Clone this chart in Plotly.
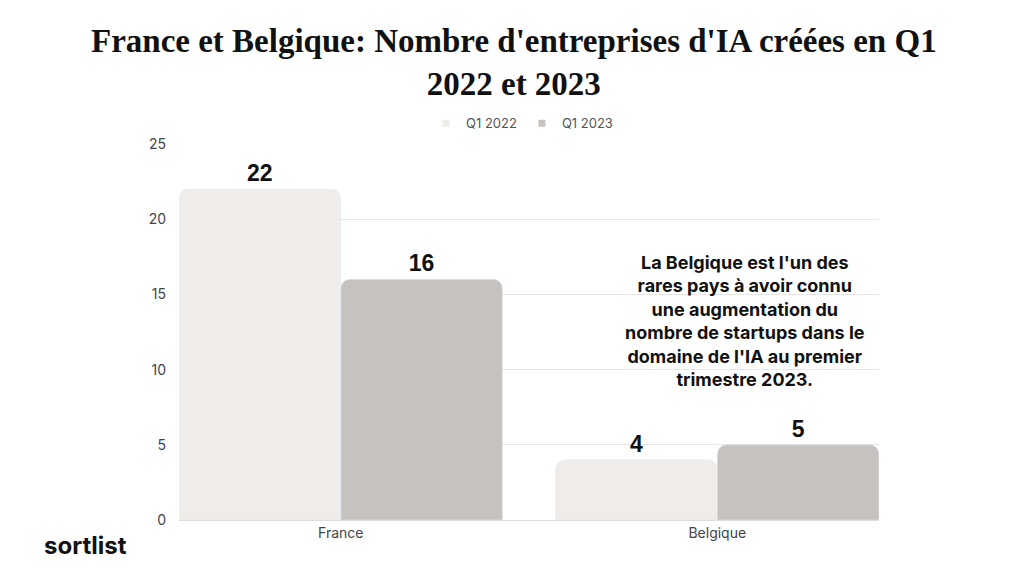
import plotly.graph_objects as go

categories = ["France", "Belgique"]
series_names = ["Q1 2022", "Q1 2023"]
q1_2022 = [22, 4]
q1_2023 = [16, 5]
colors = ["#EFECE9", "#C6C2BF"]
y_ticks = [0, 5, 10, 15, 20, 25]
title_text = "France et Belgique: Nombre d'entreprises d'IA créées en Q1<br>2022 et 2023"

fig = go.Figure()
for name, vals, col in zip(series_names, [q1_2022, q1_2023], colors):
    fig.add_trace(go.Bar(
        x=categories, y=vals, name=name, marker_color=col, showlegend=False,
        text=[str(v) for v in vals], textposition="outside",
        textfont=dict(family="Liberation Sans", size=23, color="#111111", weight="bold"),
        cliponaxis=False,
    ))
# small square legend markers
for name, col in zip(series_names, colors):
    fig.add_trace(go.Scatter(
        x=[None], y=[None], mode="markers", name=name,
        marker=dict(symbol="square", size=7, color=col),
    ))

g = 0.141
fig.update_layout(
    width=1024, height=576,
    paper_bgcolor="white", plot_bgcolor="white",
    margin=dict(l=179, r=145, t=144, b=56),
    barmode="group", bargap=g, bargroupgap=0, barcornerradius=9,
    legend=dict(orientation="h", x=0.49, xref="paper", xanchor="center", y=1.015, yanchor="bottom",
                font=dict(family="Inter", size=13, color="#555555"), itemwidth=30,
                tracegroupgap=0),
    xaxis=dict(range=[-(1 - g) / 2, 1 + (1 - g) / 2], showline=True, linecolor="#DDDDDD",
               tickfont=dict(family="Inter", size=14, color="#444444"), ticks=""),
    yaxis=dict(range=[0, 25], tickvals=y_ticks, showgrid=True, gridcolor="#E5E5E5",
               zeroline=False, tickfont=dict(family="Inter", size=14, color="#444444"),
               ticks="", ticklabelstandoff=12),
)

fig.add_annotation(
    text=title_text, xref="paper", yref="paper", x=0.479, y=1.218,
    xanchor="center", yanchor="middle", showarrow=False, align="center",
    font=dict(family="Liberation Serif", size=33, color="#111111", weight="bold"),
)
fig.add_annotation(
    text="La Belgique est l'un des<br>rares pays à avoir connu<br>une augmentation du<br>nombre de startups dans le<br>domaine de l'IA au premier<br>trimestre 2023.",
    xref="paper", yref="y", x=0.809, y=13.2, xanchor="center", yanchor="middle",
    showarrow=False, align="center",
    font=dict(family="Inter", size=18, color="#111111", weight="bold"),
)
fig.add_annotation(
    text="sortlist", xref="paper", yref="paper", x=-0.196, y=-0.025, xanchor="left", yanchor="top",
    showarrow=False, font=dict(family="Inter", size=24, color="#111111", weight="bold"),
)

fig.write_html("out.html")
